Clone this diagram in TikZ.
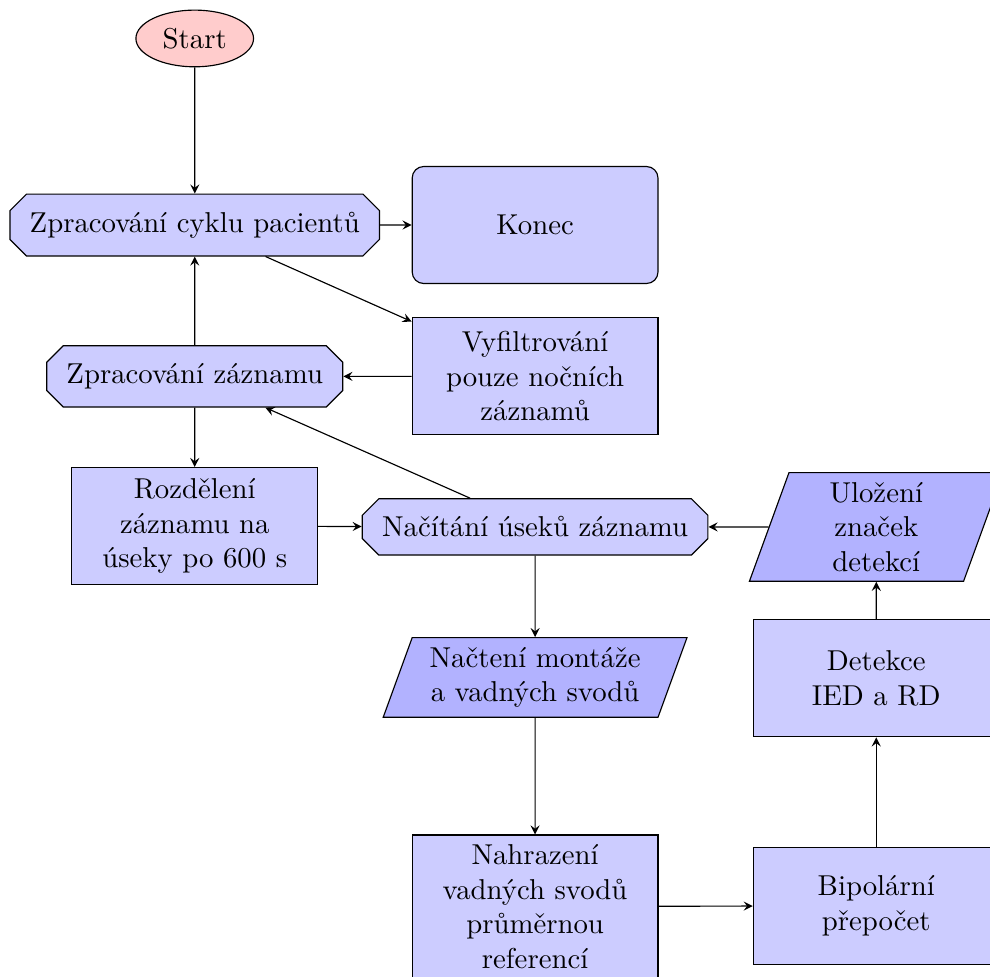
\documentclass[tikz,border=0pt]{standalone}
\usetikzlibrary{shapes.geometric, shapes.misc}
\begin{document}
\begin{tikzpicture}[
  term/.style={draw, ellipse, fill=red!20},
  proc/.style={draw, rectangle, fill=blue!20, align=center,
               text width=2.77cm, minimum height=1.43cm},
  loopbox/.style={draw, chamfered rectangle, fill=blue!20, inner xsep=4pt},
  io/.style={draw, trapezium, trapezium left angle=70, trapezium right angle=110,
             fill=blue!30, align=center},
  arr/.style={->, >=stealth},
]
\useasboundingbox (0,0) rectangle (12.10,-11.94);

\node[term] (start) at (2.38,-0.47) {Start};

\node[loopbox] (cyklu) at (2.38,-2.75) {Zpracování cyklu pacientů};
\node[proc, rounded corners] (konec) at (6.54,-2.75) {Konec};

\node[proc] (filtr) at (6.54,-4.60) {Vyfiltrování \\ pouze nočních \\ záznamů};
\node[loopbox] (zaznam) at (2.38,-4.60) {Zpracování záznamu};

\node[proc] (rozdel) at (2.38,-6.43) {Rozdělení \\ záznamu na \\ úseky po 600 s};
\node[loopbox] (nacitani) at (6.54,-6.44) {Načítání úseků záznamu};
\node[io, text width=1.9cm] (ulozeni) at (10.71,-6.44) {Uložení \\ značek \\ detekcí};

\node[io, text width=2.77cm] (montaz) at (6.54,-8.28) {Načtení montáže \\ a vadných svodů};
\node[proc] (detekce) at (10.71,-8.29) {Detekce \\ IED a RD};

\node[proc] (nahrazeni) at (6.54,-11.08) {Nahrazení \\ vadných svodů \\ průměrnou \\ referencí};
\node[proc] (bipolar) at (10.71,-11.07) {Bipolární \\ přepočet};

\draw[arr] (start) -- (cyklu);
\draw[arr] (cyklu) -- (konec);
\draw[arr] (cyklu) -- (filtr);
\draw[arr] (filtr) -- (zaznam);
\draw[arr] (zaznam) -- (cyklu);
\draw[arr] (zaznam) -- (rozdel);
\draw[arr] (rozdel) -- (nacitani);
\draw[arr] (nacitani) -- (zaznam);
\draw[arr] (ulozeni) -- (nacitani);
\draw[arr] (nacitani) -- (montaz);
\draw[arr] (montaz) -- (nahrazeni);
\draw[arr] (nahrazeni) -- (bipolar);
\draw[arr] (bipolar) -- (detekce);
\draw[arr] (detekce) -- (ulozeni);

\end{tikzpicture}
\end{document}
